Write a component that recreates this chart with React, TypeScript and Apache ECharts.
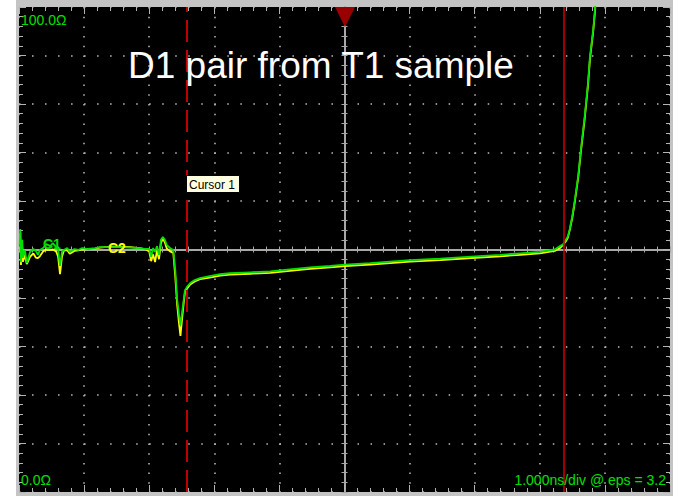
import React, { useEffect, useRef } from "react";
import * as echarts from "echarts";

// Time axis (ns) and impedance traces (Ω)
const timeNs = [
  0.01, 0.02, 0.03, 0.05, 0.06, 0.09, 0.12, 0.17, 0.22, 0.26, 0.29, 0.32, 0.37, 0.42, 0.48, 0.52,
  0.57, 0.6, 0.63, 0.66, 0.69, 0.74, 0.78, 0.85, 0.91, 0.97, 1.06, 1.17, 1.24, 1.4, 1.55, 1.71,
  1.86, 1.95, 2.0, 2.03, 2.06, 2.09, 2.12, 2.15, 2.18, 2.21, 2.24, 2.27, 2.32, 2.37, 2.4, 2.43,
  2.46, 2.48, 2.5, 2.53, 2.55, 2.58, 2.63, 2.7, 2.78, 2.93, 3.09, 3.24, 3.55, 3.86, 4.16, 4.47,
  4.78, 5.01, 5.39, 5.7, 6.01, 6.47, 7.01, 7.39, 7.7, 8.0, 8.23, 8.31, 8.36, 8.4, 8.43, 8.46,
  8.5, 8.54, 8.59, 8.63, 8.69, 8.74, 8.77, 8.82, 8.85, 8.86,
];

const greenOhm = [
  50.9, 54.2, 47.4, 52.0, 48.3, 49.9, 47.2, 49.5, 50.1, 49.7, 48.9, 49.9, 50.3, 51.1, 50.7, 51.3,
  50.5, 50.1, 46.6, 49.5, 49.9, 50.3, 49.5, 50.1, 49.9, 50.3, 50.1, 50.3, 50.5, 50.5, 50.5, 50.4,
  50.3, 50.1, 50.1, 48.5, 50.3, 49.5, 50.7, 48.9, 52.0, 52.6, 52.0, 50.9, 50.3, 49.9, 45.8, 39.6,
  36.3, 34.4, 36.5, 39.6, 41.6, 42.3, 43.1, 43.7, 44.1, 44.5, 44.9, 45.1, 45.3, 45.5, 45.9, 46.3,
  46.6, 46.9, 47.2, 47.5, 47.8, 48.1, 48.6, 48.9, 49.2, 49.5, 50.0, 50.7, 51.1, 52.0, 52.7, 54.2,
  56.9, 60.4, 65.2, 70.5, 77.5, 84.3, 89.7, 95.3, 99.8, 102.5,
];

const yellowOhm = [
  51.5, 53.5, 46.8, 50.5, 47.5, 48.8, 47.0, 48.5, 49.2, 48.3, 48.2, 48.6, 49.6, 50.0, 49.9, 50.0,
  49.6, 48.6, 44.9, 48.5, 49.8, 49.9, 49.1, 49.7, 49.8, 50.0, 50.1, 50.2, 50.4, 50.6, 50.6, 50.5,
  50.3, 50.0, 49.6, 47.6, 49.0, 47.4, 49.8, 48.0, 51.3, 52.3, 51.5, 50.2, 49.6, 49.3, 44.5, 38.5,
  34.5, 32.2, 35.0, 39.0, 41.2, 41.9, 42.8, 43.4, 43.9, 44.2, 44.6, 44.8, 45.0, 45.2, 45.6, 46.0,
  46.3, 46.6, 46.9, 47.2, 47.5, 47.8, 48.3, 48.6, 48.9, 49.2, 49.7, 50.3, 51.0, 51.7, 52.4, 54.0,
  56.6, 60.0, 64.8, 70.0, 77.0, 83.8, 89.2, 94.9, 99.4, 102.5,
];

const cursor1Ns = 2.575;
const cursor2Ns = 8.372;

const titleText = "D1 pair from T1 sample";
const topLabel = "100.0Ω";
const bottomLabel = "0.0Ω";
const scaleLabel = "1.000ns/div @ eps = 3.2";
const cursorLabel = "Cursor 1";
const c1Label = "C1";
const c2Label = "C2";

const FONT = "'Liberation Sans', Arial, sans-serif";
const tickColor = "#b4b4b4";
const dotColor = "#bdbdbd";
const centerColor = "#a8a8a8";

function edgeAxis(pos: string, min: number, max: number, interval: number, split: boolean, dash: number[]) {
  return {
    type: "value",
    min,
    max,
    interval,
    position: pos,
    axisLine: { show: false, onZero: false },
    axisTick: { show: true, inside: true, length: 7, lineStyle: { color: tickColor, width: 1 } },
    minorTick: { show: true, splitNumber: 5, length: 4, lineStyle: { color: tickColor, width: 1 } },
    axisLabel: { show: false },
    splitLine: split
      ? { show: true, lineStyle: { color: dotColor, width: 1.5, type: dash } }
      : { show: false },
    minorSplitLine: { show: false },
  };
}

function centerAxis(pos: string, min: number, max: number, interval: number, inside: boolean) {
  return {
    type: "value",
    min,
    max,
    interval,
    position: pos,
    axisLine: { show: true, onZero: true, onZeroAxisIndex: 2, lineStyle: { color: centerColor, width: 2 } },
    axisTick: { show: true, inside, length: 3, lineStyle: { color: centerColor, width: 1 } },
    minorTick: { show: true, splitNumber: 5, length: 3, lineStyle: { color: centerColor, width: 1 } },
    axisLabel: { show: false },
    splitLine: { show: false },
  };
}

export default function App() {
  const ref = useRef<HTMLDivElement>(null);

  useEffect(() => {
    if (!ref.current) return;
    const chart = echarts.init(ref.current, undefined, { renderer: "svg" });
    const green = timeNs.map((t, i) => [t, greenOhm[i]]);
    const yellow = timeNs.map((t, i) => [t, yellowOhm[i]]);

    chart.setOption({
      animation: false,
      grid: { left: 19, top: 7, width: 651, height: 485, show: true, backgroundColor: "#000000", borderWidth: 0 },
      xAxis: [
        edgeAxis("bottom", 0, 10, 1, true, [1.5, 8.2]),
        edgeAxis("top", 0, 10, 1, false, []),
        centerAxis("bottom", -5, 5, 1, true),
        centerAxis("bottom", -5, 5, 1, false),
      ],
      yAxis: [
        edgeAxis("left", 0, 100, 10, true, [1.5, 11.52]),
        edgeAxis("right", 0, 100, 10, false, []),
        centerAxis("left", -50, 50, 10, true),
        centerAxis("left", -50, 50, 10, false),
      ],
      series: [
        {
          type: "line",
          name: "yellow",
          data: yellow,
          xAxisIndex: 0,
          yAxisIndex: 0,
          showSymbol: false,
          symbol: "none",
          lineStyle: { color: "#ffff00", width: 1.8 },
          z: 3,
        },
        {
          type: "line",
          name: "green",
          data: green,
          xAxisIndex: 0,
          yAxisIndex: 0,
          showSymbol: false,
          symbol: "none",
          lineStyle: { color: "#00e000", width: 1.8 },
          z: 4,
          markLine: {
            silent: true,
            symbol: "none",
            label: { show: false },
            animation: false,
            data: [
              { xAxis: cursor1Ns, lineStyle: { color: "#c00000", width: 2, type: [22, 8] } },
              { xAxis: cursor2Ns, lineStyle: { color: "#d00000", width: 1.5, type: "solid" } },
            ],
          },
        },
      ],
      graphic: [
        {
          type: "text",
          left: 128,
          top: 47,
          z: 10,
          style: { text: titleText, fill: "#ffffff", font: `37px ${FONT}` },
        },
        {
          type: "text",
          x: 21,
          y: 19.5,
          z: 10,
          style: { text: topLabel, fill: "#00e000", font: `14px ${FONT}`, verticalAlign: "middle" },
        },
        {
          type: "text",
          x: 21,
          y: 479.5,
          z: 10,
          style: { text: bottomLabel, fill: "#00e000", font: `14px ${FONT}`, verticalAlign: "middle" },
        },
        {
          type: "text",
          x: 666,
          y: 479.5,
          z: 10,
          style: { text: scaleLabel, fill: "#00e000", font: `14px ${FONT}`, align: "right", verticalAlign: "middle" },
        },
        {
          type: "text",
          x: 43,
          y: 244,
          z: 10,
          style: { text: c1Label, fill: "#00e000", font: `bold 14px ${FONT}`, verticalAlign: "middle" },
        },
        {
          type: "text",
          x: 108,
          y: 248,
          z: 10,
          style: { text: c2Label, fill: "#ffff00", font: `bold 14px ${FONT}`, verticalAlign: "middle" },
        },
        {
          type: "polygon",
          z: 10,
          shape: { points: [[335, 7], [355, 7], [345, 27]] },
          style: { fill: "#990000" },
        },
        {
          type: "rect",
          z: 20,
          shape: { x: 186.5, y: 175.5, width: 53, height: 17 },
          style: { fill: "#ffffe1", stroke: "#000000", lineWidth: 1 },
        },
        {
          type: "text",
          x: 189,
          y: 184.5,
          z: 21,
          style: { text: cursorLabel, fill: "#000000", font: `12px ${FONT}`, verticalAlign: "middle" },
        },
      ],
    });

    return () => chart.dispose();
  }, []);

  return (
    <div style={{ position: "fixed", left: 0, top: 0, width: 679, height: 496, background: "#ffffff" }}>
      <div style={{ position: "absolute", left: 16, top: 0, width: 657, height: 496, background: "#c4c4c4" }} />
      <div ref={ref} style={{ position: "absolute", left: 0, top: 0, width: 679, height: 496 }} />
    </div>
  );
}
